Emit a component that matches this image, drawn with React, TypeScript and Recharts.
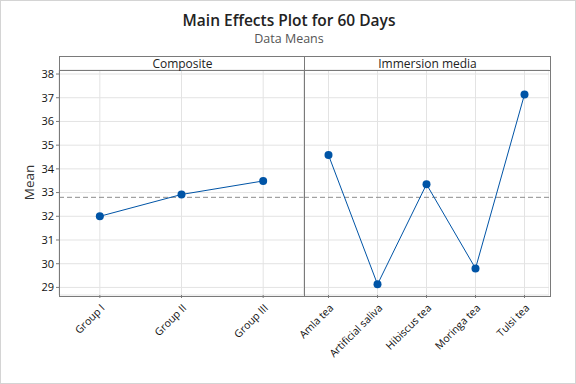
import React from 'react';
import { LineChart, Line, XAxis, YAxis, CartesianGrid, ReferenceLine } from 'recharts';

const compositeLevels = ['Group I', 'Group II', 'Group III'];
const compositeMeans = [32.0, 32.92, 33.49];

const mediaLevels = ['Amla tea', 'Artificial saliva', 'Hibiscus tea', 'Moringa tea', 'Tulsi tea'];
const mediaMeans = [34.58, 29.13, 33.35, 29.8, 37.14];

const grandMean = 32.8;
const yTicks = [29, 30, 31, 32, 33, 34, 35, 36, 37, 38];
const yDomain = [28.68, 38.17];

const compositeData = compositeLevels.map((name, i) => ({ name, mean: compositeMeans[i] }));
const mediaData = mediaLevels.map((name, i) => ({ name, mean: mediaMeans[i] }));

const FONT = '"Open Sans", "Noto Sans", sans-serif';
const BLUE = '#0054A6';
const FRAME = '#7a7a7a';
const GRID = '#e3e3e3';

const PLOT_TOP = 70;
const PLOT_BOTTOM = 295;
const PANEL_W = 245;
const AXIS_W = 59;
const H = 384;

const XTick = (props: any) => {
  const { x, y, payload } = props;
  return (
    <g transform={`translate(${x + 3},${y + 6}) rotate(-45)`}>
      <text x={0} y={0} dy="0.35em" textAnchor="end" fontSize={10.5} fill="#111" fontFamily={FONT}>
        {payload.value}
      </text>
    </g>
  );
};

// every panel keeps AXIS_W on its left so rotated labels are never clipped
const Panel = ({ data, showY }: { data: any[]; showY: boolean }) => {
  // half a category band on each side, like Minitab
  const pad = PANEL_W / data.length / 2;
  return (
    <LineChart
      width={PANEL_W + AXIS_W}
      height={H}
      data={data}
      margin={{ top: PLOT_TOP, right: 0, bottom: 0, left: showY ? 0 : AXIS_W }}
    >
      <CartesianGrid stroke={GRID} strokeWidth={1} />
      <XAxis
        dataKey="name"
        height={H - PLOT_BOTTOM}
        axisLine={false}
        tickLine={{ stroke: FRAME }}
        tickSize={3}
        interval={0}
        padding={{ left: pad, right: pad }}
        tick={<XTick />}
      />
      <YAxis
        hide={!showY}
        width={showY ? AXIS_W : 0}
        domain={yDomain}
        ticks={yTicks}
        axisLine={false}
        tickLine={{ stroke: FRAME }}
        tickSize={3}
        tick={{ fontSize: 11, fill: '#111', fontFamily: FONT }}
        label={
          showY
            ? { value: 'Mean', angle: -90, position: 'insideLeft', offset: 29, style: { fontSize: 13.5, fill: '#333', fontFamily: FONT, textAnchor: 'middle' } }
            : undefined
        }
      />
      <ReferenceLine y={grandMean} stroke="#8c8c8c" strokeDasharray="5 3" />
      <Line
        type="linear"
        dataKey="mean"
        stroke={BLUE}
        strokeWidth={1}
        dot={{ r: 4, fill: BLUE, stroke: BLUE, strokeWidth: 0 }}
        isAnimationActive={false}
      />
    </LineChart>
  );
};

const stripStyle: React.CSSProperties = {
  position: 'absolute',
  top: 56,
  width: PANEL_W,
  height: 14,
  textAlign: 'center',
  fontSize: 12,
  lineHeight: '14px',
  color: '#222',
};

export default function App() {
  return (
    <div
      style={{
        position: 'absolute',
        left: 0,
        top: 0,
        width: 576,
        height: 384,
        background: '#fff',
        border: '1px solid #d4d4d4',
        boxSizing: 'border-box',
        fontFamily: FONT,
        overflow: 'hidden',
      }}
    >
      <div style={{ position: 'absolute', left: 0, width: 576, top: 8, textAlign: 'center', fontSize: 15.5, fontWeight: 600, color: '#222' }}>
        Main Effects Plot for 60 Days
      </div>
      <div style={{ position: 'absolute', left: 0, width: 576, top: 29, textAlign: 'center', fontSize: 12.5, color: '#555' }}>
        Data Means
      </div>
      <div style={{ position: 'absolute', left: -1, top: -1 }}>
        <Panel data={compositeData} showY />
      </div>
      <div style={{ position: 'absolute', left: -1 + PANEL_W, top: -1 }}>
        <Panel data={mediaData} showY={false} />
      </div>
      {/* panel frame, divider and strip headers */}
      <div style={{ position: 'absolute', left: 58, top: 55, width: PANEL_W * 2, height: 239, border: `1px solid ${FRAME}`, pointerEvents: 'none' }} />
      <div style={{ position: 'absolute', left: 58 + PANEL_W, top: 56, width: 1, height: 239, background: FRAME }} />
      <div style={{ position: 'absolute', left: 59, top: 69, width: PANEL_W * 2, height: 1, background: FRAME }} />
      <div style={{ ...stripStyle, left: 59 }}>Composite</div>
      <div style={{ ...stripStyle, left: 59 + PANEL_W }}>Immersion media</div>
    </div>
  );
}
